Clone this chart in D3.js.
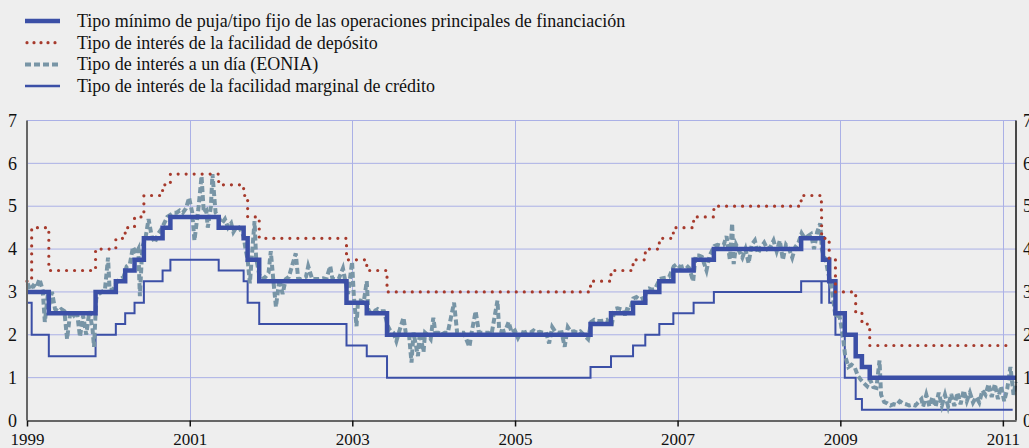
<!DOCTYPE html>
<html>
<head>
<meta charset="utf-8">
<script src="https://cdn.jsdelivr.net/npm/d3@7"></script>
<style>
  body { margin: 0; background: #eeeeee; overflow: hidden; }
  svg { display: block; }
  text { font-family: "Liberation Serif", "DejaVu Serif", serif; fill: #111; }
</style>
</head>
<body>
<div id="chart"></div>
<script>
// legend labels, in the order of the reference
const legendLabels = [
  "Tipo mínimo de puja/tipo fijo de las operaciones principales de financiación",
  "Tipo de interés de la facilidad de depósito",
  "Tipo de interés a un día (EONIA)",
  "Tipo de interés de la facilidad marginal de crédito"
];

const yTicks = [0, 1, 2, 3, 4, 5, 6, 7];
const xTickYears = [1999, 2001, 2003, 2005, 2007, 2009, 2011];

// step series: [date of change, rate]
const mroChanges = [
  ["1999-01-01", 3.00], ["1999-04-09", 2.50], ["1999-11-05", 3.00], ["2000-02-04", 3.25],
  ["2000-03-17", 3.50], ["2000-04-28", 3.75], ["2000-06-09", 4.25], ["2000-09-01", 4.50],
  ["2000-10-06", 4.75], ["2001-05-11", 4.50], ["2001-08-31", 4.25], ["2001-09-18", 3.75],
  ["2001-11-09", 3.25], ["2002-12-06", 2.75], ["2003-03-07", 2.50], ["2003-06-06", 2.00],
  ["2005-12-06", 2.25], ["2006-03-08", 2.50], ["2006-06-15", 2.75], ["2006-08-09", 3.00],
  ["2006-10-11", 3.25], ["2006-12-13", 3.50], ["2007-03-14", 3.75], ["2007-06-13", 4.00],
  ["2008-07-09", 4.25], ["2008-10-15", 3.75], ["2008-11-12", 3.25], ["2008-12-10", 2.50],
  ["2009-01-21", 2.00], ["2009-03-11", 1.50], ["2009-04-08", 1.25], ["2009-05-13", 1.00],
  ["2011-03-01", 1.00]
];

const marginalChanges = [
  ["1999-01-01", 3.25], ["1999-01-22", 4.50], ["1999-04-09", 3.50], ["1999-11-05", 4.00],
  ["2000-02-04", 4.25], ["2000-03-17", 4.50], ["2000-04-28", 4.75], ["2000-06-09", 5.25],
  ["2000-09-01", 5.50], ["2000-10-06", 5.75], ["2001-05-11", 5.50], ["2001-08-31", 5.25],
  ["2001-09-18", 4.75], ["2001-11-09", 4.25], ["2002-12-06", 3.75], ["2003-03-07", 3.50],
  ["2003-06-06", 3.00], ["2005-12-06", 3.25], ["2006-03-08", 3.50], ["2006-06-15", 3.75],
  ["2006-08-09", 4.00], ["2006-10-11", 4.25], ["2006-12-13", 4.50], ["2007-03-14", 4.75],
  ["2007-06-13", 5.00], ["2008-07-09", 5.25], ["2008-10-08", 4.75], ["2008-10-09", 4.25],
  ["2008-11-12", 3.75], ["2008-12-10", 3.00], ["2009-03-11", 2.50], ["2009-04-08", 2.25],
  ["2009-05-13", 1.75], ["2011-02-10", 1.75]
];

const depositChanges = [
  ["1999-01-01", 2.75], ["1999-01-22", 2.00], ["1999-04-09", 1.50], ["1999-11-05", 2.00],
  ["2000-02-04", 2.25], ["2000-03-17", 2.50], ["2000-04-28", 2.75], ["2000-06-09", 3.25],
  ["2000-09-01", 3.50], ["2000-10-06", 3.75], ["2001-05-11", 3.50], ["2001-08-31", 3.25],
  ["2001-09-18", 2.75], ["2001-11-09", 2.25], ["2002-12-06", 1.75], ["2003-03-07", 1.50],
  ["2003-06-06", 1.00], ["2005-12-06", 1.25], ["2006-03-08", 1.50], ["2006-06-15", 1.75],
  ["2006-08-09", 2.00], ["2006-10-11", 2.25], ["2006-12-13", 2.50], ["2007-03-14", 2.75],
  ["2007-06-13", 3.00], ["2008-07-09", 3.25], ["2008-10-08", 2.75], ["2008-10-09", 3.25],
  ["2008-11-12", 2.75], ["2008-12-10", 2.00], ["2009-01-21", 1.00], ["2009-03-11", 0.50],
  ["2009-04-08", 0.25], ["2011-02-14", 0.25]
];

// EONIA
const eonia = [
  ["1999-01-04", 3.20], ["1999-01-15", 3.05], ["1999-01-29", 3.15], ["1999-02-12", 3.10],
  ["1999-02-26", 3.30], ["1999-03-12", 3.05], ["1999-03-15", 2.85], ["1999-03-22", 2.30],
  ["1999-04-05", 2.95], ["1999-04-12", 2.70], ["1999-04-23", 3.00], ["1999-05-07", 2.60],
  ["1999-05-21", 2.55], ["1999-06-04", 2.60], ["1999-06-18", 2.55], ["1999-06-30", 1.90],
  ["1999-07-15", 2.55], ["1999-07-30", 2.45], ["1999-08-13", 2.55], ["1999-08-27", 1.95],
  ["1999-09-10", 2.45], ["1999-09-24", 2.00], ["1999-10-08", 2.55], ["1999-10-22", 2.15],
  ["1999-10-29", 1.72], ["1999-11-08", 2.85], ["1999-11-19", 2.95], ["1999-12-03", 3.00],
  ["1999-12-17", 3.05], ["1999-12-31", 3.80], ["2000-01-07", 3.05], ["2000-01-21", 3.05],
  ["2000-02-11", 3.25], ["2000-02-25", 3.30], ["2000-03-10", 3.35], ["2000-03-24", 3.60],
  ["2000-04-07", 3.65], ["2000-04-21", 4.05], ["2000-05-05", 3.90], ["2000-05-15", 4.00],
  ["2000-05-22", 2.90], ["2000-06-02", 4.05], ["2000-06-16", 4.25], ["2000-06-30", 4.70],
  ["2000-07-14", 4.30], ["2000-07-28", 4.15], ["2000-08-11", 4.35], ["2000-08-25", 4.45],
  ["2000-09-08", 4.60], ["2000-09-22", 4.75], ["2000-10-06", 4.80], ["2000-10-20", 4.85],
  ["2000-11-03", 4.85], ["2000-11-17", 4.90], ["2000-12-01", 4.85], ["2000-12-15", 4.95],
  ["2000-12-29", 5.20], ["2001-01-12", 4.85], ["2001-01-22", 4.20], ["2001-02-09", 4.95],
  ["2001-02-23", 5.70], ["2001-03-05", 4.85], ["2001-03-16", 4.90], ["2001-03-23", 4.50],
  ["2001-04-06", 5.00], ["2001-04-13", 5.75], ["2001-04-27", 4.85], ["2001-05-11", 4.75],
  ["2001-05-25", 4.60], ["2001-06-08", 4.70], ["2001-06-22", 4.50], ["2001-07-06", 4.60],
  ["2001-07-16", 4.40], ["2001-08-03", 4.55], ["2001-08-17", 4.45], ["2001-08-31", 4.30],
  ["2001-09-07", 4.05], ["2001-09-18", 3.75], ["2001-09-28", 3.20], ["2001-10-05", 3.70],
  ["2001-10-19", 4.65], ["2001-10-26", 3.80], ["2001-11-09", 3.40], ["2001-11-23", 3.30],
  ["2001-12-07", 3.35], ["2001-12-21", 3.45], ["2001-12-31", 3.95], ["2002-01-11", 3.30],
  ["2002-01-23", 2.65], ["2002-02-08", 3.30], ["2002-02-22", 2.95], ["2002-03-08", 3.30],
  ["2002-03-22", 3.35], ["2002-04-22", 3.90], ["2002-05-03", 3.30], ["2002-05-17", 3.30],
  ["2002-06-07", 3.35], ["2002-06-17", 3.60], ["2002-07-05", 3.30], ["2002-07-19", 3.30],
  ["2002-08-02", 3.30], ["2002-08-23", 3.32], ["2002-09-06", 3.30], ["2002-09-24", 3.60],
  ["2002-10-04", 3.30], ["2002-10-18", 3.30], ["2002-11-01", 3.30], ["2002-11-20", 3.55],
  ["2002-11-29", 3.30], ["2002-12-13", 2.95], ["2002-12-31", 3.70], ["2003-01-08", 2.90],
  ["2003-01-20", 2.20], ["2003-01-27", 2.80], ["2003-02-07", 2.80], ["2003-02-21", 2.75],
  ["2003-03-07", 3.25], ["2003-03-14", 2.55], ["2003-03-28", 2.60], ["2003-04-11", 2.55],
  ["2003-04-25", 2.60], ["2003-05-09", 2.55], ["2003-05-23", 2.55], ["2003-06-10", 2.20],
  ["2003-06-20", 2.10], ["2003-07-04", 2.05], ["2003-07-18", 1.85], ["2003-08-01", 2.10],
  ["2003-08-19", 2.40], ["2003-08-29", 2.05], ["2003-09-12", 2.05], ["2003-09-24", 1.35],
  ["2003-10-03", 2.05], ["2003-10-23", 1.50], ["2003-10-31", 2.05], ["2003-11-17", 1.60],
  ["2003-11-24", 2.05], ["2003-12-05", 2.00], ["2003-12-19", 1.90], ["2003-12-31", 2.40],
  ["2004-01-09", 2.05], ["2004-01-23", 2.05], ["2004-02-06", 2.00], ["2004-02-20", 2.05],
  ["2004-03-05", 2.05], ["2004-04-02", 2.75], ["2004-04-16", 2.05], ["2004-04-30", 2.05],
  ["2004-05-14", 2.05], ["2004-06-10", 1.72], ["2004-06-20", 2.05], ["2004-07-08", 2.55],
  ["2004-07-23", 2.05], ["2004-08-06", 2.05], ["2004-08-20", 2.05], ["2004-09-03", 2.05],
  ["2004-09-17", 2.00], ["2004-10-14", 2.80], ["2004-10-22", 2.10], ["2004-11-05", 2.08],
  ["2004-11-19", 2.10], ["2004-12-03", 2.30], ["2004-12-17", 2.05], ["2004-12-31", 2.10],
  ["2005-01-14", 1.93], ["2005-01-28", 2.07], ["2005-02-11", 2.05], ["2005-02-25", 2.08],
  ["2005-03-11", 2.05], ["2005-03-25", 2.10], ["2005-04-08", 2.05], ["2005-04-22", 2.07],
  ["2005-05-06", 2.05], ["2005-05-20", 2.06], ["2005-06-03", 1.80], ["2005-06-17", 2.18],
  ["2005-07-01", 2.07], ["2005-07-15", 2.05], ["2005-07-29", 2.06], ["2005-08-12", 1.72],
  ["2005-08-26", 2.18], ["2005-09-09", 2.07], ["2005-09-23", 2.08], ["2005-10-07", 2.05],
  ["2005-10-21", 2.08], ["2005-11-25", 1.90], ["2005-12-09", 2.30], ["2005-12-23", 2.35],
  ["2006-01-06", 2.32], ["2006-01-20", 2.32], ["2006-02-03", 2.33], ["2006-02-17", 2.35],
  ["2006-03-10", 2.20], ["2006-03-24", 2.60], ["2006-04-07", 2.62], ["2006-04-21", 2.60],
  ["2006-05-05", 2.58], ["2006-05-10", 2.45], ["2006-05-19", 2.60], ["2006-06-02", 2.58],
  ["2006-06-16", 2.85], ["2006-06-30", 2.88], ["2006-07-14", 2.82], ["2006-07-28", 2.85],
  ["2006-08-08", 2.70], ["2006-08-11", 3.05], ["2006-08-25", 3.08], ["2006-09-08", 3.05],
  ["2006-09-22", 3.07], ["2006-10-13", 3.30], ["2006-10-27", 3.32], ["2006-11-10", 3.33],
  ["2006-11-24", 3.35], ["2006-12-15", 3.60], ["2006-12-29", 3.65], ["2007-01-12", 3.58],
  ["2007-01-26", 3.60], ["2007-02-09", 3.62], ["2007-02-23", 3.55], ["2007-03-12", 3.25],
  ["2007-03-23", 3.85], ["2007-04-06", 3.85], ["2007-04-20", 3.82], ["2007-05-11", 3.50],
  ["2007-05-25", 3.85], ["2007-06-15", 4.07], ["2007-06-29", 4.10], ["2007-07-13", 4.08],
  ["2007-07-27", 4.10], ["2007-08-09", 4.30], ["2007-08-24", 3.75], ["2007-09-03", 4.60],
  ["2007-09-10", 3.65], ["2007-09-21", 4.10], ["2007-10-05", 3.95], ["2007-10-19", 3.80],
  ["2007-11-02", 4.00], ["2007-11-16", 3.67], ["2007-11-30", 4.10], ["2007-12-14", 4.20],
  ["2007-12-28", 3.90], ["2008-01-11", 4.05], ["2008-01-25", 4.15], ["2008-02-08", 4.00],
  ["2008-02-22", 4.05], ["2008-03-07", 4.20], ["2008-03-21", 3.95], ["2008-04-04", 4.20],
  ["2008-04-18", 3.75], ["2008-05-02", 4.10], ["2008-05-16", 4.00], ["2008-05-30", 3.80],
  ["2008-06-13", 4.05], ["2008-06-27", 4.15], ["2008-07-11", 4.37], ["2008-07-25", 4.25],
  ["2008-08-08", 4.30], ["2008-08-22", 4.35], ["2008-09-05", 4.00], ["2008-09-19", 4.40],
  ["2008-10-03", 4.60], ["2008-10-10", 4.00], ["2008-10-15", 3.90], ["2008-10-29", 3.70],
  ["2008-11-07", 3.45], ["2008-11-21", 3.15], ["2008-11-28", 2.90], ["2008-12-11", 2.40],
  ["2008-12-24", 2.55], ["2009-01-02", 2.30], ["2009-01-14", 1.90], ["2009-01-23", 1.50],
  ["2009-02-06", 1.25], ["2009-02-20", 1.30], ["2009-03-06", 1.25], ["2009-03-20", 1.05],
  ["2009-04-03", 0.95], ["2009-04-17", 0.87], ["2009-05-01", 0.80], ["2009-05-15", 0.95],
  ["2009-05-29", 0.78], ["2009-06-12", 0.76], ["2009-06-26", 1.40], ["2009-07-03", 0.60],
  ["2009-07-17", 0.43], ["2009-07-31", 0.40], ["2009-08-14", 0.35], ["2009-08-28", 0.38],
  ["2009-09-11", 0.36], ["2009-09-25", 0.45], ["2009-10-09", 0.40], ["2009-10-23", 0.38],
  ["2009-11-06", 0.35], ["2009-11-20", 0.37], ["2009-12-04", 0.35], ["2009-12-31", 0.50],
  ["2010-01-08", 0.33], ["2010-01-22", 0.60], ["2010-02-05", 0.33], ["2010-02-19", 0.55],
  ["2010-03-05", 0.32], ["2010-03-19", 0.65], ["2010-04-02", 0.35], ["2010-04-16", 0.60],
  ["2010-04-30", 0.33], ["2010-05-14", 0.62], ["2010-05-28", 0.34], ["2010-06-11", 0.65],
  ["2010-06-25", 0.38], ["2010-07-09", 0.70], ["2010-07-23", 0.45], ["2010-08-06", 0.65],
  ["2010-08-20", 0.42], ["2010-09-03", 0.55], ["2010-09-17", 0.42], ["2010-10-01", 0.70],
  ["2010-10-15", 0.60], ["2010-10-29", 0.85], ["2010-11-12", 0.55], ["2010-11-26", 0.85],
  ["2010-12-10", 0.50], ["2010-12-24", 0.80], ["2011-01-07", 0.45], ["2011-01-21", 0.75],
  ["2011-02-04", 1.25], ["2011-02-18", 0.60], ["2011-02-28", 0.90]
];

const width = 1029,
    height = 448,
    margin = ({ top: 120.5, right: 13, bottom: 27.5, left: 27 });

const blue = "#3b4fa6",
    red = "#a63a2c",
    eoniaColor = "#7895a6",
    gridColor = "#aab0e6";

const parse = d3.timeParse("%Y-%m-%d");
const toRows = arr => arr.map(d => ({ date: parse(d[0]), value: d[1] }));

const svg = d3.select("#chart")
    .append("svg")
    .attr("width", width)
    .attr("height", height);

svg.append("rect")
    .attr("width", width)
    .attr("height", height)
    .attr("fill", "#eeeeee");

let x = d3.scaleTime()
    .domain([new Date(1999, 0, 1), new Date(2011, 2, 1)])
    .range([margin.left, width - margin.right]);

let y = d3.scaleLinear()
    .domain([0, 7])
    .range([height - margin.bottom, margin.top]);

// gridlines
svg.append("g")
    .selectAll("line")
    .data(yTicks.filter(d => d > 0))
    .join("line")
    .attr("x1", margin.left)
    .attr("x2", width - margin.right)
    .attr("y1", d => y(d))
    .attr("y2", d => y(d))
    .attr("stroke", gridColor)
    .attr("stroke-width", 1);

svg.append("g")
    .selectAll("line")
    .data(xTickYears.slice(1))
    .join("line")
    .attr("x1", d => Math.round(x(new Date(d, 0, 1))) + 0.5)
    .attr("x2", d => Math.round(x(new Date(d, 0, 1))) + 0.5)
    .attr("y1", margin.top)
    .attr("y2", height - margin.bottom)
    .attr("stroke", gridColor)
    .attr("stroke-width", 1);

// series
const step = d3.line()
    .x(d => x(d.date))
    .y(d => y(d.value))
    .curve(d3.curveStepAfter);

const plain = d3.line()
    .x(d => x(d.date))
    .y(d => y(d.value));

svg.append("path")
    .datum(toRows(depositChanges))
    .attr("fill", "none")
    .attr("stroke", blue)
    .attr("stroke-width", 2)
    .attr("d", step);

svg.append("path")
    .datum(toRows(eonia))
    .attr("fill", "none")
    .attr("stroke", eoniaColor)
    .attr("stroke-width", 4)
    .attr("stroke-dasharray", "6,3")
    .attr("d", plain);

svg.append("path")
    .datum(toRows(mroChanges))
    .attr("fill", "none")
    .attr("stroke", blue)
    .attr("stroke-width", 4.5)
    .attr("d", step);

svg.append("path")
    .datum(toRows(marginalChanges))
    .attr("fill", "none")
    .attr("stroke", red)
    .attr("stroke-width", 3.2)
    .attr("stroke-linecap", "round")
    .attr("stroke-dasharray", "0,8")
    .attr("d", step);

// axes
svg.append("line")
    .attr("x1", margin.left).attr("x2", margin.left)
    .attr("y1", margin.top).attr("y2", height - margin.bottom)
    .attr("stroke", "#666").attr("stroke-width", 2);

svg.append("line")
    .attr("x1", width - margin.right).attr("x2", width - margin.right)
    .attr("y1", margin.top).attr("y2", height - margin.bottom)
    .attr("stroke", "#111").attr("stroke-width", 1.5);

svg.append("g")
    .attr("transform", `translate(0,${height - margin.bottom})`)
    .attr("class", "x-axis")
    .call(d3.axisBottom(x)
        .tickValues(xTickYears.map(d => new Date(d, 0, 1)))
        .tickFormat(d3.timeFormat("%Y"))
        .tickSizeInner(6)
        .tickSizeOuter(0)
        .tickPadding(6))
    .call(g => g.select(".domain").attr("stroke", "#666").attr("stroke-width", 2))
    .call(g => g.selectAll(".tick line").attr("stroke", "#111").attr("stroke-width", 1.5))
    .call(g => g.selectAll(".tick text")
        .attr("font-size", 17)
        .attr("fill", "#111"));

svg.append("g")
    .attr("transform", `translate(${margin.left},0)`)
    .call(d3.axisLeft(y).tickValues(yTicks).tickFormat(d3.format("d")).tickSize(0).tickPadding(10))
    .call(g => g.select(".domain").remove())
    .call(g => g.selectAll(".tick text")
        .attr("font-size", 18)
        .attr("fill", "#111"));

svg.append("g")
    .attr("transform", `translate(${width - margin.right},0)`)
    .call(d3.axisRight(y).tickValues(yTicks).tickFormat(d3.format("d")).tickSize(0).tickPadding(7))
    .call(g => g.select(".domain").remove())
    .call(g => g.selectAll(".tick text")
        .attr("font-size", 18)
        .attr("fill", "#111"));

// legend
const legendStyles = [
    { stroke: blue, width: 4.5, dash: null, cap: "butt" },
    { stroke: red, width: 3.2, dash: "0,7", cap: "round" },
    { stroke: eoniaColor, width: 4, dash: "6,3", cap: "butt" },
    { stroke: blue, width: 2.5, dash: null, cap: "butt" }
];

const legend = svg.append("g")
    .selectAll("g")
    .data(legendLabels)
    .join("g")
    .attr("transform", (d, i) => `translate(0,${21 + i * 21.7})`);

legend.append("line")
    .attr("x1", (d, i) => i === 1 ? 27 : 25)
    .attr("x2", 60)
    .attr("stroke", (d, i) => legendStyles[i].stroke)
    .attr("stroke-width", (d, i) => legendStyles[i].width)
    .attr("stroke-dasharray", (d, i) => legendStyles[i].dash)
    .attr("stroke-linecap", (d, i) => legendStyles[i].cap);

legend.append("text")
    .attr("x", 77)
    .attr("y", 6)
    .attr("font-size", 18)
    .text(d => d);
</script>
</body>
</html>
